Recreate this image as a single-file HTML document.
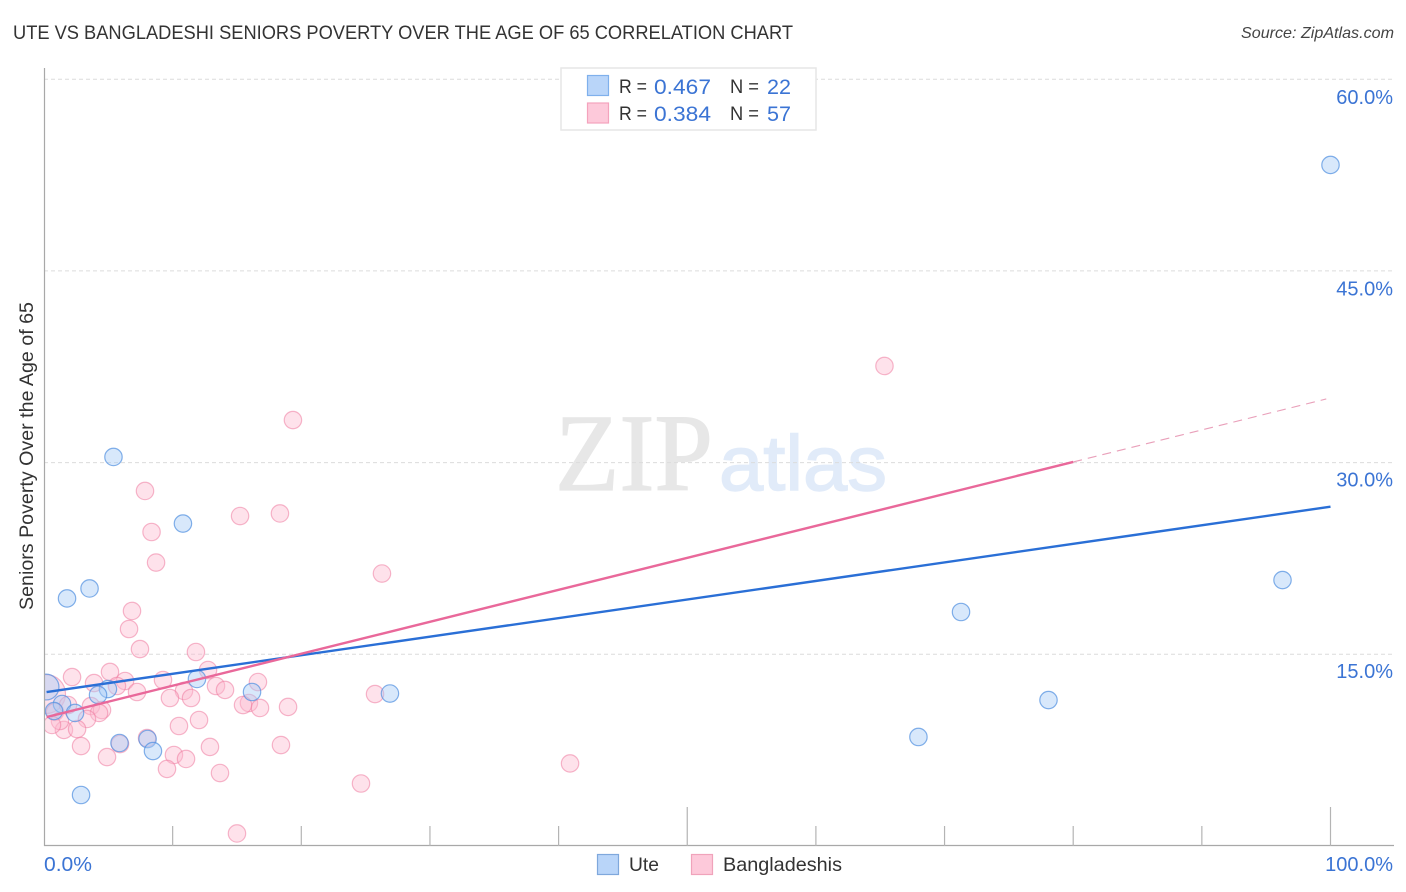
<!DOCTYPE html>
<html lang="en">
<head>
<meta charset="utf-8">
<title>Ute vs Bangladeshi Seniors Poverty Correlation Chart</title>
<style>
html,body{margin:0;padding:0;background:#fff;width:1406px;height:892px;overflow:hidden}
svg{display:block;font-family:"Liberation Sans",Arial,sans-serif}
</style>
</head>
<body>
<svg id="chart" xmlns="http://www.w3.org/2000/svg" width="1406" height="892" viewBox="0 0 1406 892">
  <defs>
    <clipPath id="plot-clip"><rect x="44" y="60" width="1350" height="786"></rect></clipPath>
  </defs>
  <rect width="1406" height="892" fill="#fff"></rect>
  <text x="13" y="39" font-size="19" fill="#333" textLength="780" lengthAdjust="spacingAndGlyphs">UTE VS BANGLADESHI SENIORS POVERTY OVER THE AGE OF 65 CORRELATION CHART</text>
  <text x="1394" y="38" font-size="16" font-style="italic" fill="#444" text-anchor="end" textLength="153" lengthAdjust="spacingAndGlyphs">Source: ZipAtlas.com</text>

  <g id="watermark">
    <text x="555" y="490" font-family="'Liberation Serif',serif" font-size="110" fill="#e7e7e7" stroke="#e7e7e7" stroke-width="1.2" textLength="158" lengthAdjust="spacingAndGlyphs">ZIP</text>
    <text x="719" y="490" font-size="78" fill="#e1ebf9" stroke="#e1ebf9" stroke-width="1.4" textLength="168" lengthAdjust="spacingAndGlyphs">atlas</text>
  </g>

  <g id="grid"></g>
  <g id="marks" clip-path="url(#plot-clip)"></g>
  <rect x="20" y="660" width="24" height="70" fill="#fff"></rect>
  <g id="axes"></g>
  <g id="trends"></g>
  <g id="labels"></g>

  <text transform="translate(33,456) rotate(-90)" font-size="19" fill="#333" text-anchor="middle" textLength="308" lengthAdjust="spacingAndGlyphs">Seniors Poverty Over the Age of 65</text>

  <g>
    <rect x="561" y="68" width="255" height="62" fill="#fff" stroke="#e6e6e6" stroke-width="1.5"></rect>
    <rect x="587.5" y="75.5" width="21" height="20" fill="#b9d5f9" stroke="#7fb0ec" stroke-width="1.2"></rect>
    <rect x="587.5" y="103" width="21" height="20" fill="#fdc9da" stroke="#f4a3bd" stroke-width="1.2"></rect>
    <text x="619" y="93" font-size="19.5" fill="#333" textLength="28" lengthAdjust="spacingAndGlyphs">R =</text>
    <text x="654" y="94" font-size="21" fill="#3b74d4" textLength="57" lengthAdjust="spacingAndGlyphs">0.467</text>
    <text x="730" y="93" font-size="19.5" fill="#333" textLength="29" lengthAdjust="spacingAndGlyphs">N =</text>
    <text x="767" y="94" font-size="21" fill="#3b74d4" textLength="24" lengthAdjust="spacingAndGlyphs">22</text>
    <text x="619" y="120" font-size="19.5" fill="#333" textLength="28" lengthAdjust="spacingAndGlyphs">R =</text>
    <text x="654" y="121" font-size="21" fill="#3b74d4" textLength="57" lengthAdjust="spacingAndGlyphs">0.384</text>
    <text x="730" y="120" font-size="19.5" fill="#333" textLength="29" lengthAdjust="spacingAndGlyphs">N =</text>
    <text x="767" y="121" font-size="21" fill="#3b74d4" textLength="24" lengthAdjust="spacingAndGlyphs">57</text>
  </g>

  <g>
    <rect x="597.5" y="854.5" width="21" height="20" fill="#b9d5f9" stroke="#7fa8dc" stroke-width="1.2"></rect>
    <text x="629" y="871" font-size="19.5" fill="#333" textLength="30" lengthAdjust="spacingAndGlyphs">Ute</text>
    <rect x="691.5" y="854.5" width="21" height="20" fill="#fdc9da" stroke="#f0a3bb" stroke-width="1.2"></rect>
    <text x="723" y="871" font-size="19.5" fill="#333" textLength="119" lengthAdjust="spacingAndGlyphs">Bangladeshis</text>
  </g>
</svg>
<script>
const yTickValues = [15, 30, 45, 60];
const yTickLabels = ["15.0%", "30.0%", "45.0%", "60.0%"];
const xTickValues = [10, 20, 30, 40, 50, 60, 70, 80, 90, 100];
const xMajorTicks = [50, 100];
const xEndLabels = ["0.0%", "100.0%"];

const uteX = [5.40, 10.80, 3.54, 1.79, 100.0, 96.27, 71.28, 78.08, 67.97, 26.89, 16.17, 11.89, 4.97, 4.20, 1.40, 0.78, 2.41, 5.87, 8.05, 8.47, 2.88, 0.16];
const uteY = [30.44, 25.23, 20.15, 19.37, 53.29, 20.81, 18.31, 11.42, 8.53, 11.93, 12.05, 13.07, 12.28, 11.82, 11.11, 10.56, 10.41, 8.06, 8.37, 7.43, 3.99, 12.44];
const uteWeight = [1, 1, 1, 1, 1, 1, 1, 1, 1, 1, 1, 1, 1, 1, 1, 1, 1, 1, 1, 1, 1, 2.2];

const bangX = [65.33, 19.35, 7.85, 8.36, 15.24, 18.34, 8.71, 26.27, 6.84, 6.61, 7.46, 11.81, 2.18, 5.13, 3.89, 6.30, 5.67, 7.23, 9.25, 12.75, 16.63, 13.37, 14.07, 10.88, 9.79, 11.43, 15.93, 15.47, 16.79, 18.97, 25.73, 3.65, 4.51, 4.28, 3.34, 12.05, 10.49, 1.55, 2.57, 8.01, 5.91, 2.88, 12.90, 4.90, 10.10, 11.04, 9.56, 13.68, 18.42, 15.00, 40.89, 24.64, 0.16, 0.86, 1.24, 0.62, 1.87];
const bangY = [37.56, 33.33, 27.78, 24.57, 25.82, 26.02, 22.18, 21.32, 18.39, 16.98, 15.41, 15.18, 13.22, 13.62, 12.75, 12.91, 12.52, 12.05, 12.99, 13.77, 12.83, 12.52, 12.21, 12.13, 11.58, 11.58, 11.19, 11.03, 10.80, 10.88, 11.89, 10.95, 10.64, 10.41, 9.94, 9.86, 9.39, 9.08, 9.15, 8.45, 7.98, 7.82, 7.75, 6.96, 7.12, 6.81, 6.03, 5.71, 7.90, 0.98, 6.46, 4.89, 11.89, 10.49, 9.78, 9.47, 11.03];
const bangWeight = [1, 1, 1, 1, 1, 1, 1, 1, 1, 1, 1, 1, 1, 1, 1, 1, 1, 1, 1, 1, 1, 1, 1, 1, 1, 1, 1, 1, 1, 1, 1, 1, 1, 1, 1, 1, 1, 1, 1, 1, 1, 1, 1, 1, 1, 1, 1, 1, 1, 1, 1, 1, 5, 1, 1, 1, 1];

const uteTrendX = [0.2, 100];
const uteTrendY = [12.05, 26.55];
const bangTrendX = [0.2, 80];
const bangTrendY = [10.09, 30.05];
const bangDashX = [80, 99.67];
const bangDashY = [30.05, 34.98];

const NS = "http://www.w3.org/2000/svg";
function xScale(v) { return 44 + v * 12.865; }
function yScale(v) { return 846 - v * 12.78; }
function yLabelScale(v) { return 869.3 - v * 12.755; }
function radius(w) { return 8.7 * Math.sqrt(w); }
function make(tag, parent, attrs) {
  const el = document.createElementNS(NS, tag);
  for (const k in attrs) el.setAttribute(k, attrs[k]);
  parent.appendChild(el);
  return el;
}

const grid = document.getElementById("grid");
const axes = document.getElementById("axes");
const marks = document.getElementById("marks");
const trends = document.getElementById("trends");
const labels = document.getElementById("labels");

yTickValues.forEach(function (v, i) {
  const line = make("line", grid, { x1: 44, x2: 1394, y1: yScale(v), y2: yScale(v), stroke: "#dcdcdc", "stroke-width": 1, "stroke-dasharray": "4 3" });
  
  
  const t = make("text", labels, { x: 1393, y: yLabelScale(v), "text-anchor": "end", "font-size": 20, fill: "#3b74d4" });
  t.textContent = yTickLabels[i];
  
  
});

const yAxisLine = make("line", axes, { x1: 44.5, x2: 44.5, y1: 68, y2: 846, stroke: "#a8a8a8", "stroke-width": 1.2 });


const xAxisLine = make("line", axes, { x1: 44, x2: 1394, y1: 845.5, y2: 845.5, stroke: "#a8a8a8", "stroke-width": 1.2 });



xTickValues.forEach(function (v) {
  const top = xMajorTicks.indexOf(v) >= 0 ? 807 : 826;
  const tick = make("line", axes, { x1: xScale(v), x2: xScale(v), y1: top, y2: 846, stroke: "#b4b4b4", "stroke-width": 1.2 });
  
  
});

const xLeft = make("text", labels, { x: 44, y: 871, "font-size": 20, fill: "#3b74d4", textLength: 48, lengthAdjust: "spacingAndGlyphs" });
xLeft.textContent = xEndLabels[0];


const xRight = make("text", labels, { x: 1393, y: 871, "font-size": 20, fill: "#3b74d4", "text-anchor": "end" });
xRight.textContent = xEndLabels[1];



bangX.forEach(function (v, i) {
  const c = make("circle", marks, { cx: xScale(v), cy: yScale(bangY[i]), r: radius(bangWeight[i]), fill: "#fdb9cf", "fill-opacity": 0.42, stroke: "#ee7ba0", "stroke-opacity": 0.55, "stroke-width": 1.2 });
  
  
});
uteX.forEach(function (v, i) {
  const c = make("circle", marks, { cx: xScale(v), cy: yScale(uteY[i]), r: radius(uteWeight[i]), fill: "#a9ccf6", "fill-opacity": 0.45, stroke: "#4f8fdf", "stroke-opacity": 0.7, "stroke-width": 1.2 });
  
  
});

const uteLine = make("line", trends, { x1: xScale(uteTrendX[0]), y1: yScale(uteTrendY[0]), x2: xScale(uteTrendX[1]), y2: yScale(uteTrendY[1]), stroke: "#2a6fd6", "stroke-width": 2.4 });


const bangLine = make("line", trends, { x1: xScale(bangTrendX[0]), y1: yScale(bangTrendY[0]), x2: xScale(bangTrendX[1]), y2: yScale(bangTrendY[1]), stroke: "#e9689a", "stroke-width": 2.4 });


const bangDash = make("line", trends, { x1: xScale(bangDashX[0]), y1: yScale(bangDashY[0]), x2: xScale(bangDashX[1]), y2: yScale(bangDashY[1]), stroke: "#e9a0ba", "stroke-width": 1.1, "stroke-dasharray": "9 6" });


</script>
</body>
</html>
